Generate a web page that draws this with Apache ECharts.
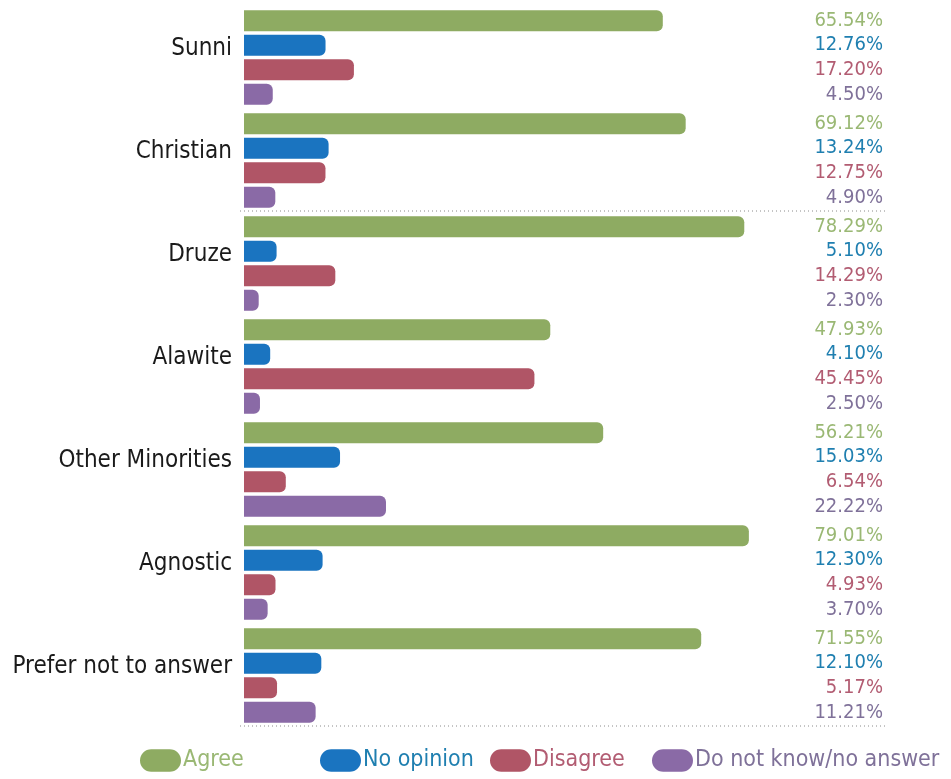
<!DOCTYPE html>
<html>
<head>
<meta charset="utf-8">
<style>
  html, body { margin: 0; padding: 0; background: #ffffff; }
  #chart { width: 951px; height: 779px; }
</style>
<script src="https://cdn.jsdelivr.net/npm/echarts@6/dist/echarts.min.js"></script>
</head>
<body>
<div id="chart"></div>
<script>
// Survey answers by religious affiliation (percent of respondents)
const categories = ['Sunni', 'Christian', 'Druze', 'Alawite', 'Other Minorities', 'Agnostic', 'Prefer not to answer'];
const seriesNames = ['Agree', 'No opinion', 'Disagree', 'Do not know/no answer'];
const agree     = [65.54, 69.12, 78.29, 47.93, 56.21, 79.01, 71.55];
const noOpinion = [12.76, 13.24, 5.10, 4.10, 15.03, 12.30, 12.10];
const disagree  = [17.20, 12.75, 14.29, 45.45, 6.54, 4.93, 5.17];
const dontKnow  = [4.50, 4.90, 2.30, 2.50, 22.22, 3.70, 11.21];

const barColors   = ['#8eab62', '#1a74c0', '#b05566', '#8a6aa6'];
const labelColors = ['#9ab874', '#1f7fb0', '#b25c72', '#7f7199'];
const condensed = "'DejaVu Sans Condensed', 'Liberation Sans Narrow', sans-serif";

const grid = { left: 244, right: 68, top: 6, bottom: 52 };
const W = 951, H = 779;
const plotW = W - grid.left - grid.right;
const band = (H - grid.top - grid.bottom) / categories.length;

function makeSeries(name, values, i) {
  return {
    name: name,
    type: 'bar',
    data: values,
    barWidth: 21,
    barGap: '17%',
    itemStyle: { color: barColors[i], borderRadius: [0, 6, 6, 0] },
    label: {
      show: true,
      position: [plotW, 10.5],
      align: 'right',
      verticalAlign: 'middle',
      fontFamily: condensed,
      fontSize: 20,
      color: labelColors[i],
      formatter: p => p.value.toFixed(2) + '%'
    }
  };
}

// one legend entry per component so each sits at its own x
const legendLefts = [140, 320, 490, 652];
const legends = seriesNames.map((n, i) => ({
  bottom: 7, left: legendLefts[i], padding: 0,
  itemWidth: 41, itemHeight: 24, itemGap: 0,
  icon: 'path://M11,0 H29 A11,11 0 0 1 29,22 H11 A11,11 0 0 1 11,0 Z',
  selectedMode: false,
  data: [{ name: n, textStyle: { color: labelColors[i] } }],
  textStyle: { fontFamily: condensed, fontSize: 23, padding: [0, 0, 0, -3] }
}));

const chart = echarts.init(document.getElementById('chart'));
chart.setOption({
  backgroundColor: '#ffffff',
  animation: false,
  grid: grid,
  xAxis: {
    type: 'value', min: 0, max: 100,
    show: false
  },
  yAxis: {
    type: 'category', data: categories, inverse: true,
    axisLine: { show: false }, axisTick: { show: false },
    axisLabel: {
      color: '#1a1a1a', fontFamily: condensed, fontSize: 24, margin: 12,
      verticalAlign: 'bottom', lineHeight: 18
    }
  },
  legend: legends,
  series: [
    makeSeries(seriesNames[0], agree, 0),
    makeSeries(seriesNames[1], noOpinion, 1),
    makeSeries(seriesNames[2], disagree, 2),
    makeSeries(seriesNames[3], dontKnow, 3)
  ],
  graphic: [2, 7].map(k => ({
    type: 'line',
    shape: { x1: grid.left - 4, y1: grid.top + k * band - 1, x2: W - grid.right + 2, y2: grid.top + k * band - 1 },
    style: { stroke: '#8a8a8a', lineWidth: 1, lineDash: [1, 3] },
    silent: true
  }))
});
</script>
</body>
</html>
